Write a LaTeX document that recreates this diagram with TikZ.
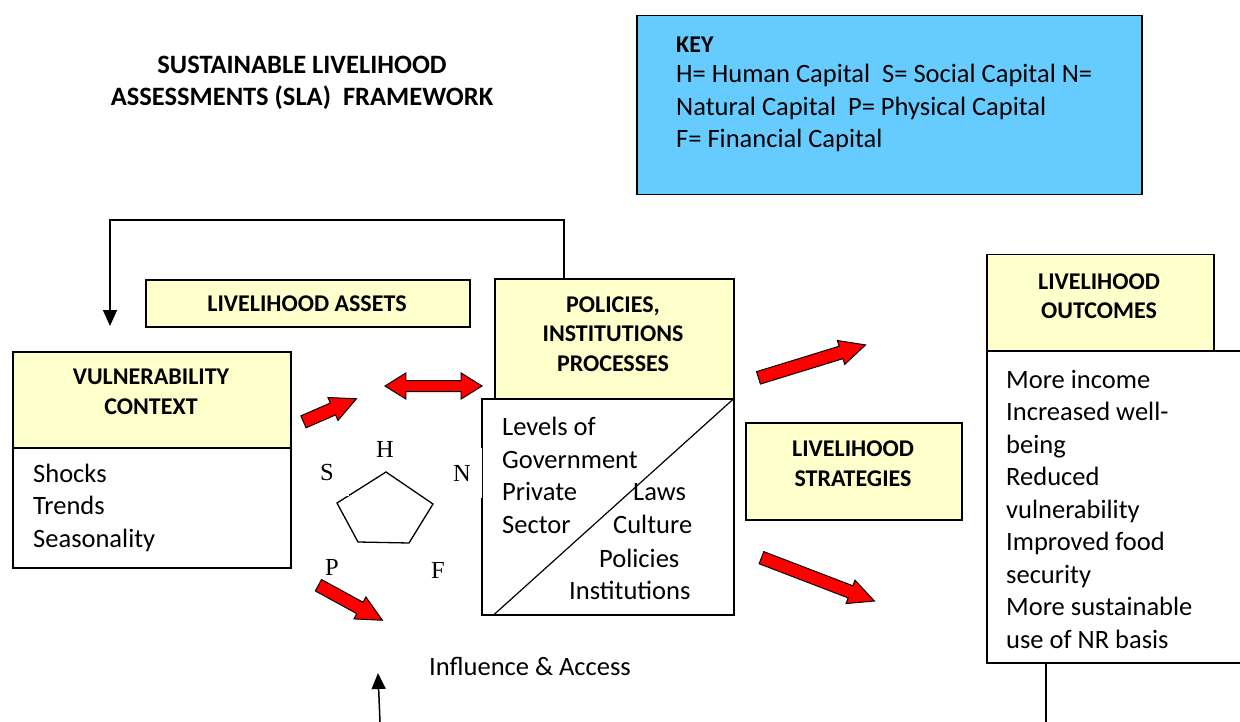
\documentclass[tikz,border=0pt]{standalone}
\usepackage{fontspec}
\setmainfont{Carlito}
\newfontfamily\tnr{Liberation Serif}
\usetikzlibrary{shapes.arrows,shapes.geometric,arrows.meta}
\definecolor{ylw}{HTML}{FFFFCC}
\definecolor{keyblue}{HTML}{66CCFF}
\begin{document}
\begin{tikzpicture}[x=1pt,y=-1pt,
 box/.style={draw=black,line width=1.5pt,inner sep=0pt,anchor=north west},
 ybox/.style={box,fill=ylw},
 wbox/.style={box,fill=white},
 body/.style={font=\fontsize{26.5}{32.5}\selectfont,inner sep=0pt,align=left},
 head/.style={font=\bfseries\fontsize{24}{29.5}\selectfont,inner sep=0pt,align=center},
 lbl/.style={font=\tnr\fontsize{24.5}{28}\selectfont,inner sep=0pt},
 redarrow/.style={single arrow,draw=black,fill=red,line width=1pt,inner xsep=0pt,inner ysep=6pt,single arrow head extend=6pt,single arrow tip angle=52,single arrow head indent=0pt,anchor=tail},
 dblarrow/.style={double arrow,draw=black,fill=red,line width=1pt,inner xsep=0pt,inner ysep=5pt,double arrow head extend=7.5pt,double arrow tip angle=64,double arrow head indent=0pt},
 conn/.style={draw=black,line width=1.5pt},
 tipa/.style={-{Triangle[length=16pt,width=14pt]}}
]
\useasboundingbox[fill=white] (0,0) rectangle (1240,722);
\clip (0,0) rectangle (1240,722);

% title
\node[font=\bfseries\fontsize{26.5}{32}\selectfont,inner sep=0pt,align=center] (title) at (302,83)
  {SUSTAINABLE LIVELIHOOD\\ASSESSMENTS (SLA)\ \ FRAMEWORK};

% key
\node[box,fill=keyblue,minimum width=505pt,minimum height=179pt] (key) at (636,15) {};
\node[font=\bfseries\fontsize{24}{29.5}\selectfont,inner sep=0pt,anchor=west] (keyt) at (676,45) {KEY};
\node[body,anchor=west] (keyb) at (676,108)
  {H= Human Capital\ \ S= Social Capital N=\\Natural Capital\ \ P= Physical Capital\\F= Financial Capital};

% vulnerability
\node[wbox,minimum width=278pt,minimum height=120pt] (vulL) at (12,447) {};
\node[ybox,minimum width=278pt,minimum height=96pt] (vulT) at (12,351) {};
\node[head] (vulTt) at (151,392) {VULNERABILITY\\CONTEXT};
\node[body,anchor=west] (vulLt) at (33,507.5) {Shocks\\Trends\\Seasonality};

% livelihood assets
\node[ybox,minimum width=324pt,minimum height=47pt] (assets) at (145,279) {};
\node[head] (assetst) at (307,304) {LIVELIHOOD ASSETS};

% policies
\node[wbox,minimum width=252pt,minimum height=216pt] (polL) at (481,398) {};
\draw[black,line width=1.2pt] ([xshift=12pt]polL.south west) -- (polL.north east);
\node[ybox,minimum width=239pt,minimum height=120pt] (polT) at (494,278) {};
\node[head] (polTt) at (613,334) {POLICIES,\\INSTITUTIONS\\PROCESSES};
\node[body,anchor=west] (polLt) at (502,475.5) {Levels of\\Government\\Private\\Sector};
\node[body,anchor=west] (laws) at (633,492) {Laws};
\node[body,anchor=west] (culture) at (613,524) {Culture};
\node[body,anchor=west] (policies) at (599,558) {Policies};
\node[body,anchor=west] (instit) at (569,590) {Institutions};

% strategies
\node[ybox,minimum width=216pt,minimum height=97pt] (strat) at (745,422) {};
\node[head] (stratt) at (853,463.5) {LIVELIHOOD\\STRATEGIES};

% outcomes
\node[wbox,minimum width=270pt,minimum height=312pt] (outL) at (986,350) {};
\node[ybox,minimum width=227pt,minimum height=96pt] (outT) at (986,254) {};
\node[head] (outTt) at (1099,296) {LIVELIHOOD\\OUTCOMES};
\node[body,anchor=west] (outLt) at (1006,509)
  {More income\\Increased well-\\being\\Reduced\\vulnerability\\Improved food\\security\\More sustainable\\use of NR basis};

% pentagon and labels
\coordinate (p1) at (386,472);
\coordinate (p2) at (433,504);
\coordinate (p3) at (409,543);
\coordinate (p4) at (358,542);
\coordinate (p5) at (337,503);
\draw[black,line width=1.3pt,line join=miter] (p1) -- (p2) -- (p3) -- (p4) -- (p5) -- cycle;
\node[lbl] (H) at (385,449) {H};
\node[lbl,fill=white,minimum width=44pt,minimum height=46pt] (S) at (327,473) {S};
\node[lbl,fill=white,minimum width=40pt,minimum height=50pt] (N) at (462,473) {N};
\node[lbl] (P) at (332,567) {P};
\node[lbl] (F) at (438,570) {F};

% influence
\node[body] (infl) at (530,666) {Influence \& Access};

% red block arrows (placed by their tails)
\node[redarrow,rotate=23.5,minimum height=57.8pt] (a1) at (303,422) {};
\node[dblarrow,minimum height=97pt] (a2) at (433.5,386) {};
\node[redarrow,rotate=-28.7,minimum height=72.9pt] (a3) at (318,585) {};
\node[redarrow,rotate=17.1,minimum height=112pt] (a4) at (758,378) {};
\node[redarrow,rotate=-21,minimum height=121pt] (a5) at (761,557.5) {};

% connectors
\coordinate (fbA) at (564,220);
\coordinate (fbB) at (110,220);
\coordinate (fbE) at (110,326);
\draw[conn,tipa] ([xshift=70pt]polT.north west) -- (fbA) -- (fbB) -- (fbE);
\coordinate (ia) at (380,722);
\coordinate (ib) at (378,673);
\draw[conn,tipa] (ia) -- (ib);
\coordinate (oc) at (1046,722);
\draw[conn] ([xshift=60pt]outL.south west) -- (oc);
\end{tikzpicture}
\end{document}
